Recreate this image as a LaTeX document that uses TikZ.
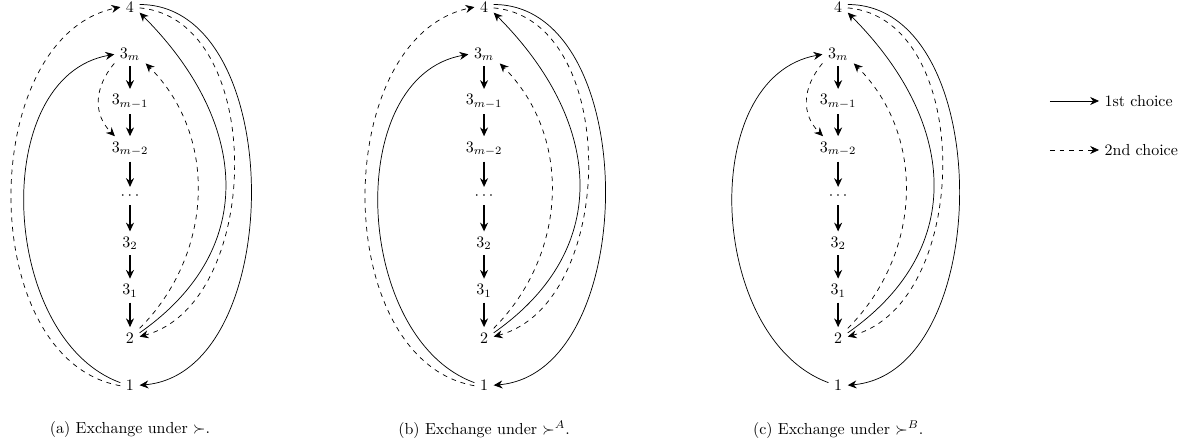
\documentclass[tikz,border=0pt]{standalone}
\usetikzlibrary{positioning,arrows.meta}
\tikzset{
    down/.style={-{Stealth[length=5.5pt,width=5pt]}, line width=0.8pt},
    first/.style={-{Stealth[length=5.5pt,width=5pt]}, line width=0.45pt},
    second/.style={-{Stealth[length=5.5pt,width=5pt]}, line width=0.45pt, dashed},
    captext/.style={inner sep=0pt}
}
\begin{document}
\begin{tikzpicture}[node distance=1.04cm, on grid]
\useasboundingbox (0,0) rectangle (26.27,9.856);
% the three columns
\foreach \p/\x/\s in {a/2.86/{}, b/10.65/{^A}, c/18.44/{^B}}{
    \node (\p-4) at (\x,9.70) {$4$};
    \node[below=of \p-4] (\p-3m) {$3_m$};
    \node[below=of \p-3m] (\p-3m1) {$3_{m-1}$};
    \node[below=of \p-3m1] (\p-3m2) {$3_{m-2}$};
    \node[below=of \p-3m2] (\p-dots) {$\cdots$};
    \node[below=of \p-dots] (\p-32) {$3_2$};
    \node[below=of \p-32] (\p-31) {$3_1$};
    \node[below=of \p-31] (\p-2) {$2$};
    \node[below=of \p-2] (\p-1) {$1$};
    \node[captext] (\p-cap) at (\x,0.40) {(\p) Exchange under $\succ\s$.};
    \foreach \u/\v in {3m/3m1, 3m1/3m2, 3m2/dots, dots/32, 32/31, 31/2}
        \draw[down] (\p-\u) -- (\p-\v);
    \draw[first] (\p-1.165) to[out=160, in=190] (\p-3m.west);
    \draw[first] (\p-4.15) to[out=0, in=5] (\p-1.east);
    \draw[second] (\p-4.-5) to[out=-5, in=15, looseness=1.0] (\p-2.8);
    \draw[first] (\p-2.28) to[out=35, in=-45, looseness=1.2] (\p-4.-30);
    \draw[second] (\p-2.45) to[out=45, in=-45] (\p-3m.-30);
}
% edges that differ
\draw[second] (a-1.183) to[out=170, in=192] (a-4.west);
\draw[second] (b-1.183) to[out=170, in=192] (b-4.west);
\draw[second] (a-3m.210) to[out=230, in=135, looseness=1.1] (a-3m2.140);
\draw[second] (c-3m.210) to[out=230, in=135, looseness=1.1] (c-3m2.140);
% legend
\node[anchor=west] (lg-first) at (24.18,7.634) {1st choice};
\node[anchor=west] (lg-second) at (24.18,6.556) {2nd choice};
\coordinate (lg-first0) at (23.1,7.634);
\coordinate (lg-second0) at (23.1,6.556);
\draw[first] (lg-first0) -- (lg-first);
\draw[second] (lg-second0) -- (lg-second);
\end{tikzpicture}
\end{document}
